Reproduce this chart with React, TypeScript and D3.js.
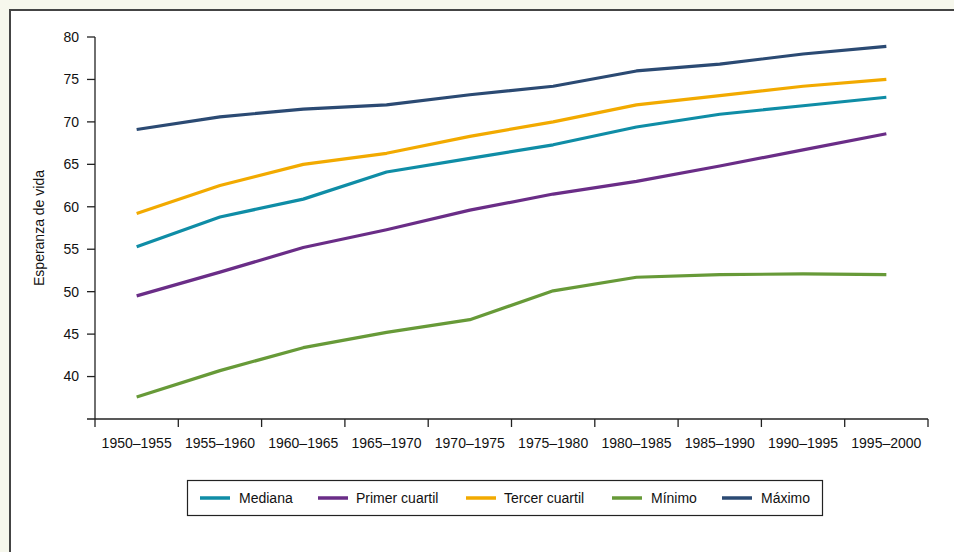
import React from "react";
import * as d3 from "d3";

const periods = ["1950–1955","1955–1960","1960–1965","1965–1970","1970–1975","1975–1980","1980–1985","1985–1990","1990–1995","1995–2000"];
const mediana = [55.3, 58.8, 60.9, 64.1, 65.7, 67.3, 69.4, 70.9, 71.9, 72.9];
const primerCuartil = [49.5, 52.3, 55.2, 57.3, 59.6, 61.5, 63.0, 64.8, 66.7, 68.6];
const tercerCuartil = [59.2, 62.5, 65.0, 66.3, 68.3, 70.0, 72.0, 73.1, 74.2, 75.0];
const minimo = [37.6, 40.7, 43.4, 45.2, 46.7, 50.1, 51.7, 52.0, 52.1, 52.0];
const maximo = [69.1, 70.6, 71.5, 72.0, 73.2, 74.2, 76.0, 76.8, 78.0, 78.9];
const yTicks = [40, 45, 50, 55, 60, 65, 70, 75, 80];

const seriesNames = ["Mediana", "Primer cuartil", "Tercer cuartil", "Mínimo", "Máximo"];
const seriesValues = [mediana, primerCuartil, tercerCuartil, minimo, maximo];
const seriesColors = ["#0f8da6", "#6a2d87", "#f2aa00", "#679a38", "#2b4a73"];

export default function App() {
  const W = 954, H = 552;
  const x0 = 95, x1 = 928, yTop = 37, yBot = 419;
  const x = d3.scaleBand<string>().domain(periods).range([x0, x1]).padding(0);
  const y = d3.scaleLinear().domain([35, 80]).range([yBot, yTop]);
  const line = d3.line<number>()
    .x((_, i) => (x(periods[i]) as number) + x.bandwidth() / 2)
    .y((v) => y(v));
  const font = "'Liberation Sans', Arial, Helvetica, sans-serif";
  const boundaries = periods.map((p) => x(p) as number).concat([x1]);
  const fs = 14;

  const legendItems = [
    { sx: 200, tx: 239 },
    { sx: 318, tx: 356 },
    { sx: 466, tx: 504 },
    { sx: 612, tx: 651 },
    { sx: 722, tx: 761 },
  ];

  return (
    <svg width={W} height={H} style={{ position: "fixed", left: 0, top: 0 }} fontFamily={font}>
      <rect x={0} y={0} width={W} height={H} fill="#f6f7ec" />
      <rect x={10} y={10} width={W + 20} height={H + 20} fill="#ffffff" stroke="#444" strokeWidth={2} />
      {/* y axis */}
      <line x1={x0} x2={x0} y1={yTop} y2={yBot} stroke="#222" strokeWidth={1.3} />
      {yTicks.map((t) => (
        <g key={t}>
          <line x1={x0 - 8} x2={x0} y1={y(t)} y2={y(t)} stroke="#222" strokeWidth={1.3} />
          <text x={x0 - 16} y={y(t)} dy="0.35em" textAnchor="end" fontSize={fs} fill="#111">{t}</text>
        </g>
      ))}
      <text transform={`translate(${44},${(yTop + yBot) / 2}) rotate(-90)`} textAnchor="middle" fontSize={fs} fill="#111">Esperanza de vida</text>
      {/* x axis */}
      <line x1={x0 - 8} x2={x1} y1={yBot} y2={yBot} stroke="#222" strokeWidth={1.3} />
      {boundaries.map((b, i) => (
        <line key={i} x1={b} x2={b} y1={yBot} y2={yBot + 8} stroke="#222" strokeWidth={1.3} />
      ))}
      {periods.map((p) => (
        <text key={p} x={(x(p) as number) + x.bandwidth() / 2} y={448} textAnchor="middle" fontSize={fs} fill="#111">{p}</text>
      ))}
      {/* lines */}
      {seriesValues.map((vals, i) => (
        <path key={seriesNames[i]} d={line(vals) as string} fill="none" stroke={seriesColors[i]} strokeWidth={3.2} strokeLinejoin="round" />
      ))}
      {/* legend */}
      <rect x={187.5} y={480.5} width={635} height={35} fill="#fff" stroke="#222" strokeWidth={1.2} />
      {seriesNames.map((n, i) => (
        <g key={n}>
          <line x1={legendItems[i].sx} x2={legendItems[i].sx + 30} y1={498} y2={498} stroke={seriesColors[i]} strokeWidth={3.5} />
          <text x={legendItems[i].tx} y={498} dy="0.35em" fontSize={fs} fill="#111">{n}</text>
        </g>
      ))}
    </svg>
  );
}
